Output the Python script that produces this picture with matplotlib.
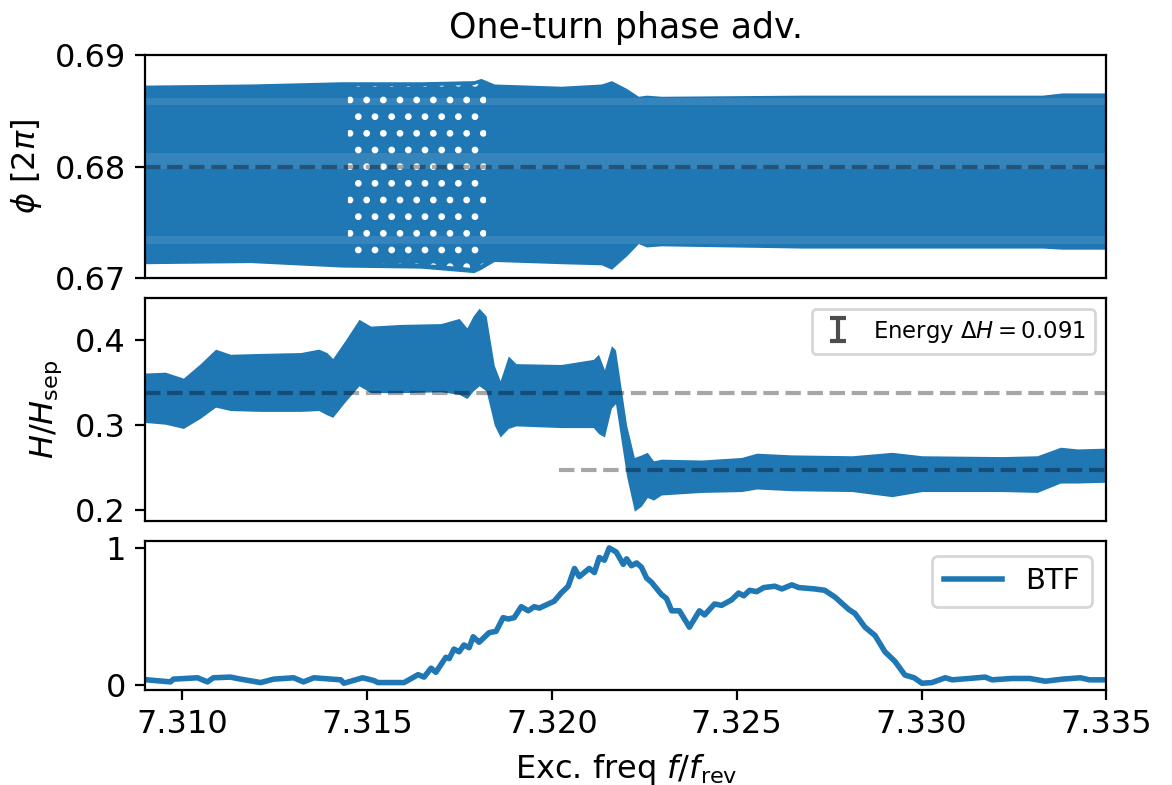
import numpy as np
import matplotlib.pyplot as plt

plt.rcParams['font.size'] = 11.5
plt.rcParams['hatch.linewidth'] = 1.2

# ---- top panel: envelope of one-turn phase advance [2pi] ----
phi_f = [7.30900, 7.31185, 7.31429, 7.31646, 7.31789, 7.31808, 7.31844, 7.32025,
         7.32134, 7.32161, 7.32202, 7.32234, 7.32256, 7.32296, 7.32676, 7.33327,
         7.33381, 7.33506]
phi_hi = [0.6873, 0.6874, 0.6876, 0.6876, 0.6877, 0.6879, 0.6874, 0.6872,
          0.6874, 0.6877, 0.6870, 0.6863, 0.6864, 0.6863, 0.6864, 0.6864,
          0.6866, 0.6866]
phi_lo = [0.6713, 0.6714, 0.6710, 0.6709, 0.6705, 0.6708, 0.6715, 0.6713,
          0.6712, 0.6708, 0.6720, 0.6731, 0.6728, 0.6729, 0.6727, 0.6727,
          0.6726, 0.6726]
phi_ref = 0.68
beat_f = [7.31448, 7.31822]
phi_gaps = [(0.6798, 0.6812), (0.6855, 0.6861), (0.6731, 0.6738)]

# ---- middle panel: envelope of H/Hsep ----
h_f = [7.30900, 7.30954, 7.31003, 7.31049, 7.31090, 7.31130, 7.31212, 7.31320,
       7.31369, 7.31391, 7.31407, 7.31442, 7.31478, 7.31510, 7.31591, 7.31700,
       7.31749, 7.31770, 7.31787, 7.31803, 7.31822, 7.31844, 7.31860, 7.31882,
       7.31903, 7.32025, 7.32112, 7.32126, 7.32142, 7.32161, 7.32172, 7.32202,
       7.32223, 7.32242, 7.32258, 7.32275, 7.32296, 7.32405, 7.32513, 7.32554,
       7.32649, 7.32812, 7.32920, 7.33001, 7.33218, 7.33313, 7.33376, 7.33422,
       7.33506]
h_hi = [0.361, 0.362, 0.355, 0.372, 0.389, 0.383, 0.384, 0.385,
        0.389, 0.385, 0.378, 0.400, 0.424, 0.416, 0.418, 0.419,
        0.425, 0.414, 0.428, 0.437, 0.428, 0.370, 0.352, 0.381,
        0.372, 0.371, 0.377, 0.383, 0.365, 0.393, 0.388, 0.300,
        0.262, 0.265, 0.268, 0.258, 0.260, 0.259, 0.262, 0.267,
        0.265, 0.264, 0.268, 0.264, 0.263, 0.264, 0.274, 0.272,
        0.273]
h_lo = [0.303, 0.301, 0.296, 0.308, 0.321, 0.317, 0.316, 0.316,
        0.317, 0.312, 0.309, 0.328, 0.346, 0.338, 0.338, 0.339,
        0.336, 0.331, 0.340, 0.346, 0.340, 0.300, 0.286, 0.296,
        0.299, 0.297, 0.297, 0.290, 0.286, 0.320, 0.325, 0.240,
        0.199, 0.205, 0.215, 0.212, 0.218, 0.221, 0.222, 0.225,
        0.223, 0.222, 0.216, 0.222, 0.222, 0.221, 0.232, 0.232,
        0.233]
h_before = 0.338
h_after = 0.247
h_after_start = 7.3202
dH = 0.091

# ---- bottom panel: BTF amplitude (normalised) ----
btf_f = [7.30900, 7.30968, 7.30976, 7.31041, 7.31068, 7.31084, 7.31130, 7.31158,
         7.31212, 7.31247, 7.31301, 7.31328, 7.31356, 7.31429, 7.31437, 7.31488,
         7.31518, 7.31529, 7.31600, 7.31638, 7.31654, 7.31673, 7.31686, 7.31713,
         7.31722, 7.31735, 7.31749, 7.31762, 7.31776, 7.31787, 7.31803, 7.31830,
         7.31849, 7.31868, 7.31882, 7.31898, 7.31917, 7.31936, 7.31952, 7.31966,
         7.32006, 7.32025, 7.32044, 7.32061, 7.32074, 7.32101, 7.32115, 7.32128,
         7.32142, 7.32155, 7.32174, 7.32193, 7.32202, 7.32215, 7.32229, 7.32242,
         7.32256, 7.32269, 7.32296, 7.32310, 7.32324, 7.32345, 7.32372, 7.32399,
         7.32413, 7.32440, 7.32459, 7.32486, 7.32505, 7.32519, 7.32535, 7.32554,
         7.32573, 7.32603, 7.32622, 7.32649, 7.32668, 7.32711, 7.32738, 7.32766,
         7.32803, 7.32820, 7.32847, 7.32874, 7.32901, 7.32928, 7.32955, 7.32980,
         7.33001, 7.33028, 7.33064, 7.33083, 7.33129, 7.33172, 7.33191, 7.33245,
         7.33292, 7.33335, 7.33381, 7.33430, 7.33454, 7.33489]
btf = [0.036, 0.020, 0.040, 0.050, 0.020, 0.050, 0.055, 0.040,
       0.015, 0.040, 0.050, 0.020, 0.050, 0.035, 0.010, 0.050,
       0.030, 0.015, 0.015, 0.073, 0.055, 0.120, 0.090, 0.200,
       0.190, 0.260, 0.240, 0.290, 0.270, 0.350, 0.310, 0.380,
       0.390, 0.490, 0.480, 0.490, 0.570, 0.540, 0.570, 0.560,
       0.610, 0.670, 0.720, 0.850, 0.790, 0.850, 0.820, 0.930,
       0.910, 1.000, 0.970, 0.880, 0.920, 0.870, 0.890, 0.860,
       0.780, 0.750, 0.660, 0.630, 0.540, 0.540, 0.420, 0.540,
       0.510, 0.590, 0.580, 0.620, 0.670, 0.650, 0.690, 0.680,
       0.710, 0.720, 0.700, 0.730, 0.710, 0.700, 0.690, 0.640,
       0.550, 0.520, 0.420, 0.360, 0.240, 0.170, 0.070, 0.050,
       0.010, 0.015, 0.050, 0.035, 0.045, 0.055, 0.035, 0.045,
       0.045, 0.025, 0.040, 0.050, 0.035, 0.035]

fig = plt.figure(figsize=(5.86, 3.925), dpi=200)
gs = fig.add_gridspec(3, 1, height_ratios=[3, 3, 2], hspace=0.1,
                      left=0.124, right=0.944, top=0.930, bottom=0.121)
ax1 = fig.add_subplot(gs[0])
ax2 = fig.add_subplot(gs[1], sharex=ax1)
ax3 = fig.add_subplot(gs[2], sharex=ax1)

dash = dict(color='k', alpha=0.35, ls='--', lw=1.5)

# phase advance
ax1.fill_between(phi_f, phi_lo, phi_hi, color='C0', lw=0)
for lo, hi in phi_gaps:
    ax1.fill_between(phi_f, lo, hi, color='white', alpha=0.1, lw=0)
m = (np.array(phi_f) >= beat_f[0]) & (np.array(phi_f) <= beat_f[1])
bf = np.r_[beat_f[0], np.array(phi_f)[m], beat_f[1]]
ax1.fill_between(bf, np.interp(bf, phi_f, phi_lo) + 0.0004,
                 np.interp(bf, phi_f, phi_hi) - 0.0004,
                 facecolor='none', edgecolor='white', hatch='..', lw=0)
ax1.axhline(phi_ref, **dash)
ax1.set_ylim(0.67, 0.69)
ax1.set_yticks([0.67, 0.68, 0.69])
ax1.set_ylabel(r'$\phi$ $[2\pi]$')
ax1.set_title('One-turn phase adv.', fontsize=12.5)

# energy
ax2.fill_between(h_f, h_lo, h_hi, color='C0', lw=0)
ax2.axhline(h_before, **dash)
ax2.hlines(h_after, h_after_start, 7.336, **dash)
ax2.errorbar([np.nan], [np.nan], yerr=[dH], fmt='none', ecolor='0.3',
             capsize=3, elinewidth=1.5, capthick=1.5,
             label=r'Energy $\Delta H = %.3f$' % dH)
ax2.set_yticks([0.2, 0.3, 0.4])
ax2.set_ylabel(r'$H/H_\mathrm{sep}$')
ax2.legend(loc='upper right', fontsize=8.2, handlelength=1.5)

# BTF
ax3.plot(btf_f, btf, color='C0', lw=2.0, label='BTF')
ax3.set_yticks([0, 1])
ax3.legend(loc='upper right', fontsize=10.5)
ax3.set_xlabel(r'Exc. freq $f/f_\mathrm{rev}$')
ax3.set_xlim(7.309, 7.335)
ax3.set_xticks([7.310, 7.315, 7.320, 7.325, 7.330, 7.335])

for ax in (ax1, ax2):
    ax.tick_params(axis='x', bottom=False, labelbottom=False)

plt.savefig('out.png', dpi=200)
